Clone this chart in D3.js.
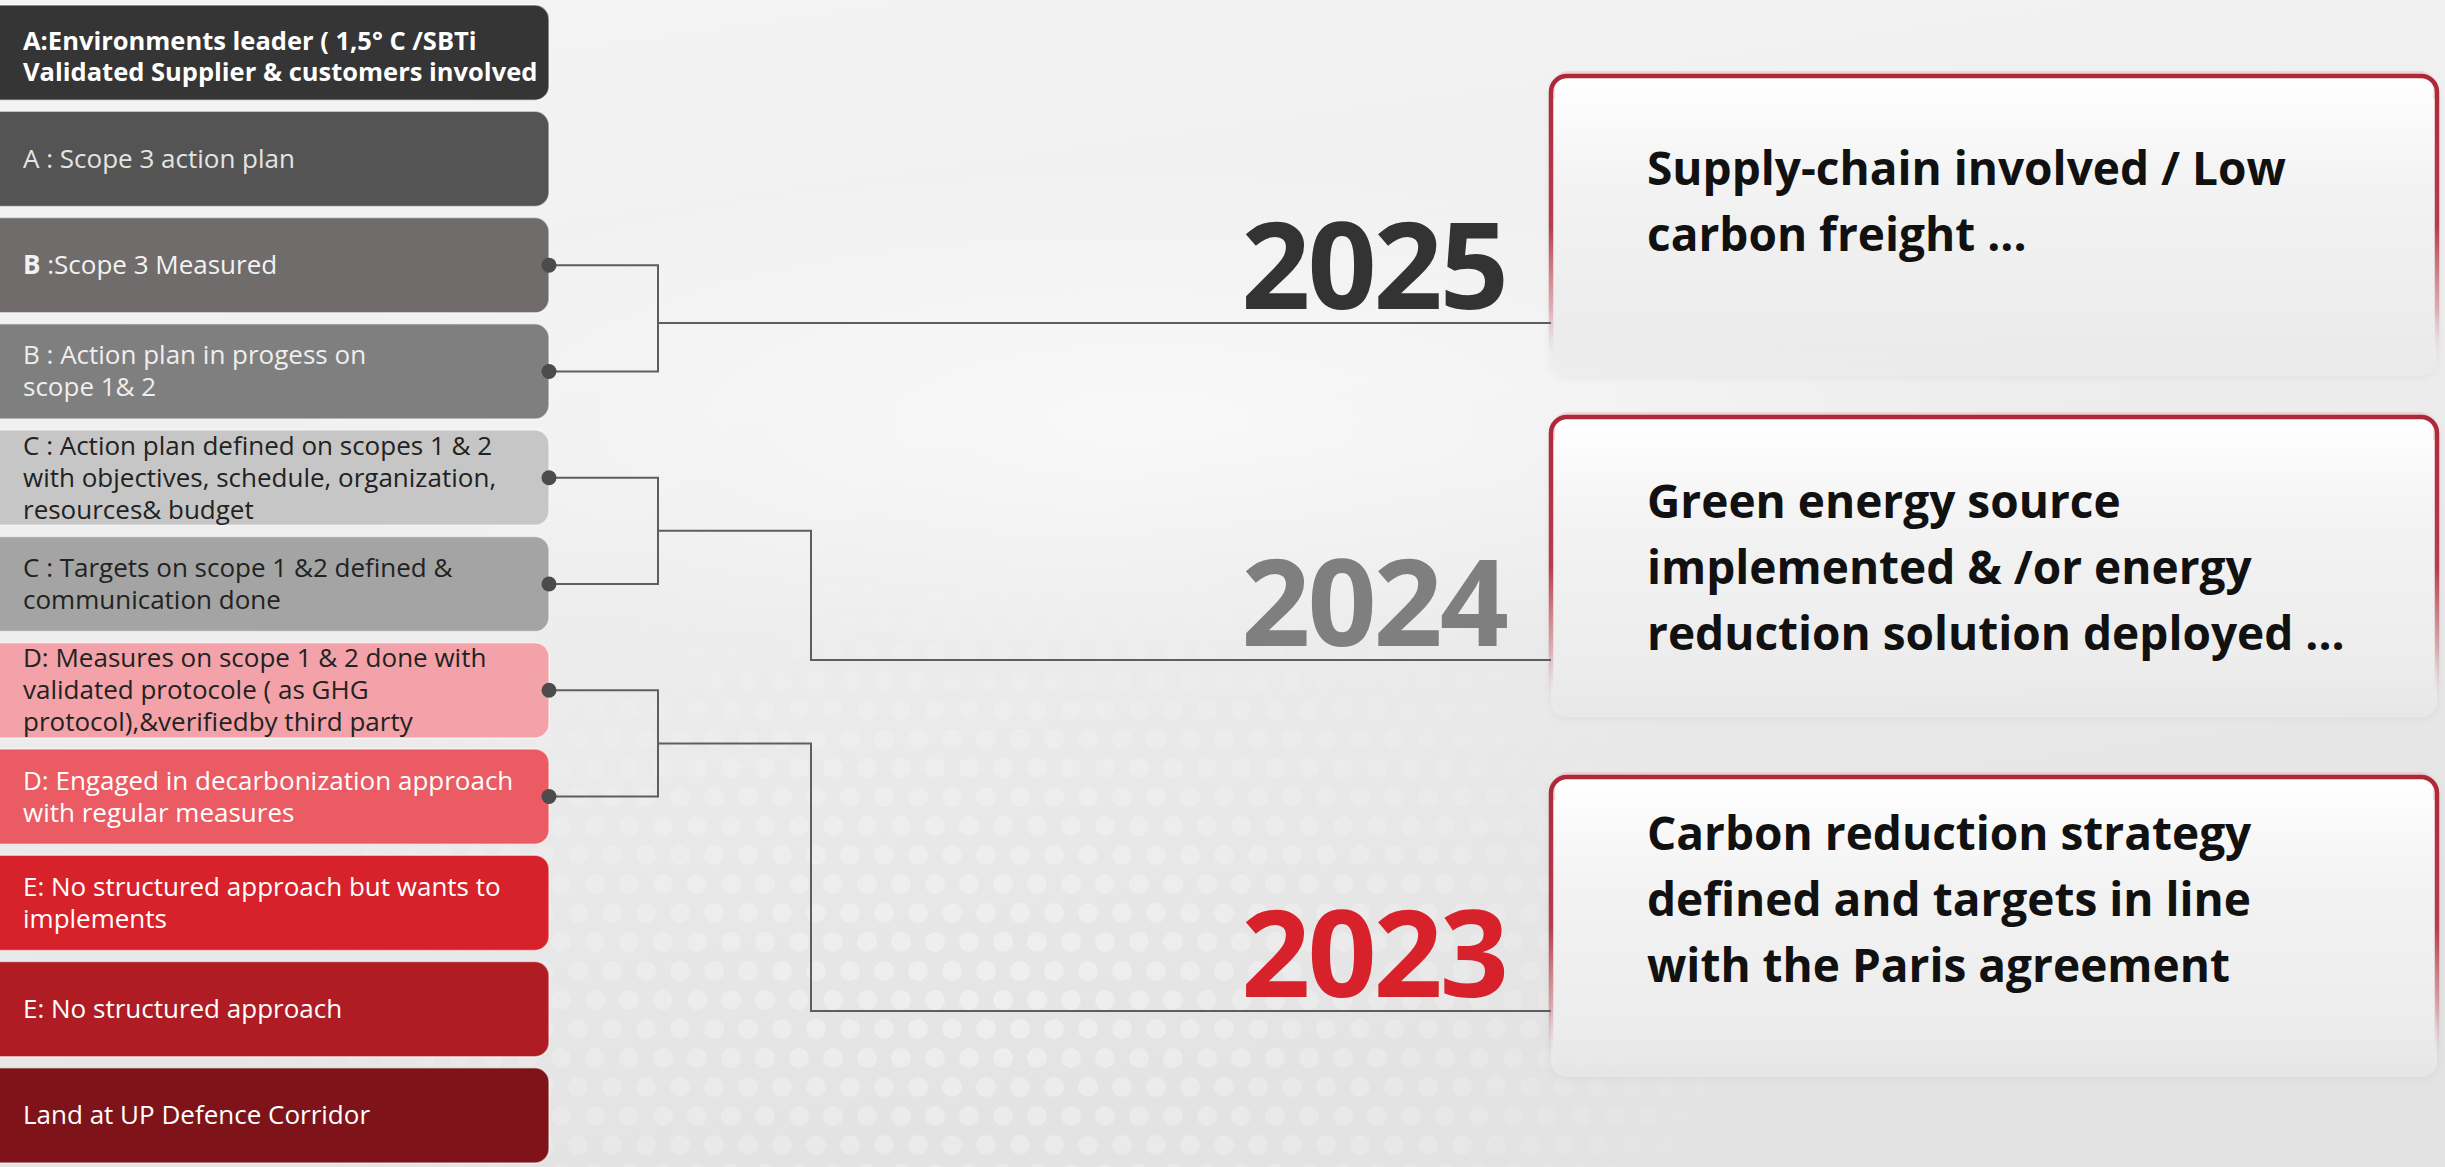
<!DOCTYPE html>
<html><head><meta charset="utf-8">
<script src="https://cdn.jsdelivr.net/npm/d3@7"></script>
<style>html,body{margin:0;padding:0;background:#ececec;overflow:hidden}</style>
</head><body>
<svg id="chart" width="2445" height="1167"></svg>
<script>
// ---------- data ----------
const levelLabels = [
  ["**A:Environments leader ( 1,5° C /SBTi**", "**Validated Supplier & customers involved**"],
  ["A : Scope 3 action plan"],
  ["**B** :Scope 3 Measured"],
  ["B : Action plan in progess on", "scope 1& 2"],
  ["C : Action plan defined on scopes 1 & 2", "with objectives, schedule, organization,", "resources& budget"],
  ["C : Targets on scope 1 &2 defined &", "communication done"],
  ["D: Measures on scope 1 & 2 done with", "validated protocole ( as GHG", "protocol),&verifiedby third party"],
  ["D: Engaged in decarbonization approach", "with regular measures"],
  ["E: No structured approach but wants to", "implements"],
  ["E: No structured approach"],
  ["Land at UP Defence Corridor"]
];
const levelFills = ["#353535","#545454","#706c6c","#7f7f7f","#c6c6c6","#a4a4a4",
                    "#f2a2a8","#eb5b63","#d7222b","#b01c24","#7e1419"];
const levelTextFills = ["#ffffff","#e4e4e4","#f2f2f2","#eeeeee","#222222","#222222",
                        "#222222","#ffffff","#ffffff","#ffffff","#ffffff"];
const years = ["2025", "2024", "2023"];
const yearFills = ["#333333", "#7f7f7f", "#d7222b"];
const yearLevelPairs = [[2, 3], [4, 5], [6, 7]];
const milestoneTexts = [
  ["Supply-chain involved / Low", "carbon freight ..."],
  ["Green energy source", "implemented & /or energy", "reduction solution deployed ..."],
  ["Carbon reduction strategy", "defined and targets in line", "with the Paris agreement"]
];

// ---------- layout ----------
const W = 2445, H = 1167;
const svg = d3.select("#chart");
const FONT = "'Open Sans', 'Noto Sans', sans-serif";

const yLevel = d3.scaleBand().domain(d3.range(levelLabels.length))
  .range([5, 1163]).paddingInner(0.104).paddingOuter(0);
const boxX = d3.scaleLinear().domain([0, 1]).range([-20, 549]);
const bracketX = 658, jogX = 811;
const cardX = d3.scaleLinear().domain([0, 1]).range([1551, 2437]);
const cardTop = d3.scaleOrdinal().domain(years).range([76, 417, 777]);
const cardH = 300;
const linkY = d3.scaleOrdinal().domain(years).range([323, 660, 1011]);
const textOffset = d3.scaleOrdinal().domain(years).range([109, 101, 73]);

const defs = svg.append("defs");

// background
const bg = defs.append("linearGradient").attr("id", "bg").attr("x1", 0).attr("y1", 0).attr("x2", 0.3).attr("y2", 1);
bg.append("stop").attr("offset", 0).attr("stop-color", "#f4f4f4");
bg.append("stop").attr("offset", 0.45).attr("stop-color", "#efefef");
bg.append("stop").attr("offset", 1).attr("stop-color", "#e3e3e3");
svg.append("rect").attr("width", W).attr("height", H).attr("fill", "url(#bg)");

const pat = defs.append("pattern").attr("id", "dots").attr("patternUnits", "userSpaceOnUse")
  .attr("width", 34).attr("height", 58);
[[17, 14], [0, 43], [34, 43]].forEach(p =>
  pat.append("circle").attr("cx", p[0]).attr("cy", p[1]).attr("r", 10).attr("fill", "#ffffff"));
const rg = defs.append("radialGradient").attr("id", "dotMaskGrad")
  .attr("gradientUnits", "userSpaceOnUse").attr("cx", 1000).attr("cy", 1000).attr("r", 800)
  .attr("gradientTransform", "translate(1000 1000) scale(1 0.55) translate(-1000 -1000)");
rg.append("stop").attr("offset", 0).attr("stop-color", "#fff").attr("stop-opacity", 0.7);
rg.append("stop").attr("offset", 0.6).attr("stop-color", "#fff").attr("stop-opacity", 0.3);
rg.append("stop").attr("offset", 1).attr("stop-color", "#fff").attr("stop-opacity", 0);
const mask = defs.append("mask").attr("id", "dotMask");
mask.append("rect").attr("width", W).attr("height", H).attr("fill", "url(#dotMaskGrad)");
svg.append("rect").attr("width", W).attr("height", H).attr("fill", "url(#dots)")
  .attr("mask", "url(#dotMask)").attr("opacity", 0.55);
const hl = defs.append("radialGradient").attr("id", "hl");
hl.append("stop").attr("offset", 0).attr("stop-color", "#fff").attr("stop-opacity", 0.6);
hl.append("stop").attr("offset", 1).attr("stop-color", "#fff").attr("stop-opacity", 0);
svg.append("ellipse").attr("cx", 1150).attr("cy", 420).attr("rx", 900).attr("ry", 260).attr("fill", "url(#hl)");

// ---------- connectors ----------
const lines = svg.append("g").attr("fill", "none").attr("stroke", "#5e5e5e").attr("stroke-width", 2);
yearLevelPairs.forEach((pair, i) => {
  const yr = years[i];
  const ya = yLevel(pair[0]) + yLevel.bandwidth() / 2;
  const yb = yLevel(pair[1]) + yLevel.bandwidth() / 2;
  const ymid = (ya + yb) / 2;
  const ly = linkY(yr);
  const p = d3.path();
  p.moveTo(boxX(1), ya); p.lineTo(bracketX, ya); p.lineTo(bracketX, yb); p.lineTo(boxX(1), yb);
  if (ly >= ya && ly <= yb) {
    p.moveTo(bracketX, ly); p.lineTo(cardX(0), ly);
  } else {
    p.moveTo(bracketX, ymid); p.lineTo(jogX, ymid); p.lineTo(jogX, ly); p.lineTo(cardX(0), ly);
  }
  lines.append("path").attr("d", p.toString());
});

// ---------- level boxes ----------
const boxes = svg.append("g").selectAll("g.level").data(levelLabels).join("g").attr("class", "level");
boxes.append("rect")
  .attr("x", boxX(0)).attr("y", (d, i) => yLevel(i))
  .attr("width", boxX(1) - boxX(0)).attr("height", yLevel.bandwidth())
  .attr("rx", 14)
  .attr("fill", (d, i) => levelFills[i])
  .attr("stroke", "rgba(255,255,255,0.55)").attr("stroke-width", 1.5);

boxes.each(function (lbl, i) {
  const g = d3.select(this);
  const n = lbl.length;
  const lh = i === 0 ? 31 : 32;
  const cy = yLevel(i) + yLevel.bandwidth() / 2 + (i === 0 ? 4 : 0);
  const t = g.append("text").attr("font-family", FONT).attr("font-size", i === 0 ? 25.5 : 26)
    .attr("fill", levelTextFills[i]);
  lbl.forEach((ln, k) => {
    const base = cy + (k - (n - 1) / 2) * lh + 9;
    let first = true;
    ln.split("**").forEach((part, j) => {
      if (!part) return;
      const ts = t.append("tspan").text(part).attr("font-weight", j % 2 === 1 ? 700 : 400);
      if (first) { ts.attr("x", 23).attr("y", base); first = false; }
    });
  });
});

// dots
svg.append("g").selectAll("circle").data(yearLevelPairs.flat()).join("circle")
  .attr("cx", boxX(1)).attr("cy", d => yLevel(d) + yLevel.bandwidth() / 2)
  .attr("r", 7.5).attr("fill", "#4b4b4b");

// ---------- years ----------
svg.append("g").selectAll("text").data(years).join("text")
  .attr("x", 1506).attr("y", d => linkY(d) - 14)
  .attr("text-anchor", "end")
  .attr("font-family", FONT).attr("font-weight", 700).attr("font-size", 121)
  .attr("letter-spacing", -3)
  .attr("fill", (d, i) => yearFills[i])
  .text(d => d);

// ---------- cards ----------
const sg = defs.append("linearGradient").attr("id", "cardStroke").attr("x1", 0).attr("y1", 0).attr("x2", 0).attr("y2", 1);
sg.append("stop").attr("offset", 0).attr("stop-color", "#ad2838").attr("stop-opacity", 1);
sg.append("stop").attr("offset", 0.5).attr("stop-color", "#b02a3a").attr("stop-opacity", 0.9);
sg.append("stop").attr("offset", 0.78).attr("stop-color", "#c04050").attr("stop-opacity", 0.35);
sg.append("stop").attr("offset", 0.93).attr("stop-color", "#e0a0a8").attr("stop-opacity", 0);
sg.append("stop").attr("offset", 1).attr("stop-color", "#e0a0a8").attr("stop-opacity", 0);
const fg = defs.append("linearGradient").attr("id", "cardFill").attr("x1", 0).attr("y1", 0).attr("x2", 0).attr("y2", 1);
fg.append("stop").attr("offset", 0).attr("stop-color", "#ffffff");
fg.append("stop").attr("offset", 0.35).attr("stop-color", "#f3f3f3");
fg.append("stop").attr("offset", 0.85).attr("stop-color", "#ececec");
fg.append("stop").attr("offset", 1).attr("stop-color", "#ececec").attr("stop-opacity", 0.5);
const sh = defs.append("filter").attr("id", "shadow").attr("x", -0.05).attr("y", -0.05).attr("width", 1.1).attr("height", 1.15);
sh.append("feDropShadow").attr("dx", 0).attr("dy", 2).attr("stdDeviation", 4)
  .attr("flood-color", "#000").attr("flood-opacity", 0.08);

const cards = svg.append("g").selectAll("g.card").data(years).join("g").attr("class", "card");
cards.append("rect")
  .attr("x", cardX(0)).attr("y", d => cardTop(d))
  .attr("width", cardX(1) - cardX(0)).attr("height", cardH)
  .attr("rx", 16).attr("fill", "url(#cardFill)").attr("filter", "url(#shadow)");
// faint pink glow along top edge only
cards.append("path")
  .attr("d", d => {
    const p = d3.path(), x0 = cardX(0) + 2, x1 = cardX(1) - 2, y0 = cardTop(d) - 3, r = 16;
    p.moveTo(x0, y0 + r + 10); p.lineTo(x0, y0 + r); p.arcTo(x0, y0, x0 + r, y0, r);
    p.lineTo(x1 - r, y0); p.arcTo(x1, y0, x1, y0 + r, r); p.lineTo(x1, y0 + r + 10);
    return p.toString();
  })
  .attr("fill", "none").attr("stroke", "#f3b8bf").attr("stroke-width", 4).attr("stroke-opacity", 0.5);
cards.append("rect")
  .attr("x", cardX(0)).attr("y", d => cardTop(d))
  .attr("width", cardX(1) - cardX(0)).attr("height", cardH)
  .attr("rx", 16).attr("fill", "none").attr("stroke", "url(#cardStroke)").attr("stroke-width", 4.5);
cards.each(function (yr, i) {
  const t = d3.select(this).append("text").attr("font-family", FONT).attr("font-weight", 700)
    .attr("font-size", 46).attr("fill", "#111111");
  milestoneTexts[i].forEach((ln, k) => {
    t.append("tspan").attr("x", cardX(0) + 96).attr("y", cardTop(yr) + textOffset(yr) + k * 66).text(ln);
  });
});
</script>
</body></html>
